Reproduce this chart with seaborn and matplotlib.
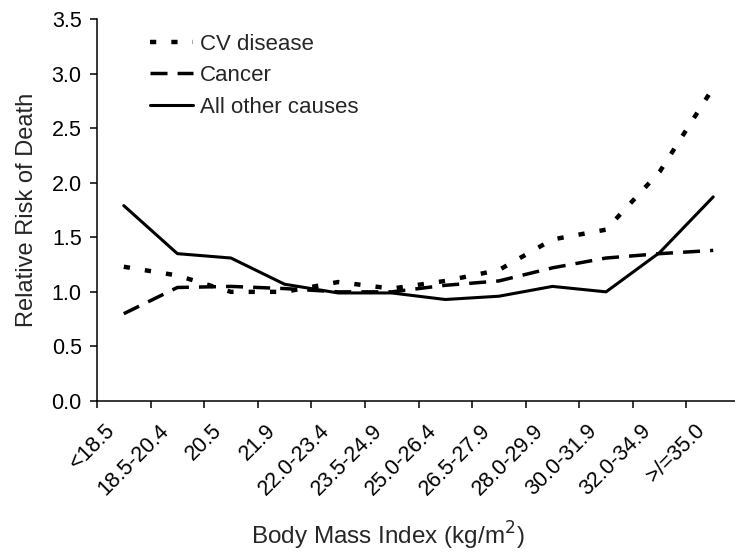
import numpy as np
import pandas as pd
import matplotlib
matplotlib.use("Agg")
import matplotlib.pyplot as plt
from matplotlib.ticker import FixedLocator, MultipleLocator, FormatStrFormatter
from matplotlib.transforms import ScaledTranslation
import seaborn as sns

# ---- data ----
bmi_labels = ["<18.5", "18.5-20.4", "20.5", "21.9", "22.0-23.4", "23.5-24.9",
              "25.0-26.4", "26.5-27.9", "28.0-29.9", "30.0-31.9", "32.0-34.9", ">/=35.0"]
cv_disease = [1.23, 1.15, 1.00, 1.00, 1.09, 1.03, 1.10, 1.20, 1.48, 1.57, 2.10, 2.87]
cancer = [0.80, 1.04, 1.05, 1.03, 1.00, 1.00, 1.06, 1.10, 1.22, 1.31, 1.35, 1.38]
other_causes = [1.79, 1.35, 1.31, 1.07, 0.99, 0.99, 0.93, 0.96, 1.05, 1.00, 1.36, 1.87]
series_names = ["CV disease", "Cancer", "All other causes"]

sns.set_theme(style="ticks")
plt.rcParams["font.family"] = ["Liberation Sans", "DejaVu Sans"]

pos = np.arange(len(bmi_labels))
df = pd.DataFrame({
    "pos": np.tile(pos, 3),
    "risk": cv_disease + cancer + other_causes,
    "series": np.repeat(series_names, len(bmi_labels)),
})

fig = plt.figure(figsize=(7.35, 5.57), dpi=100)
ax = fig.add_axes([97 / 735, 156 / 557, 643 / 735, 382 / 557])

styles = {
    "CV disease": dict(lw=3.2, ls=(0, (1.4, 3.4))),
    "Cancer": dict(lw=2.5, ls=(0, (4.9, 2.9))),
    "All other causes": dict(lw=2.2, ls="-"),
}
for name in series_names:
    sub = df[df["series"] == name]
    sns.lineplot(data=sub, x="pos", y="risk", ax=ax, color="black",
                 linewidth=styles[name]["lw"], linestyle=styles[name]["ls"],
                 label=name, sort=False, errorbar=None)

ax.set_xlim(-0.5, len(bmi_labels) - 0.5)
ax.set_ylim(0, 3.5)
ax.yaxis.set_major_locator(MultipleLocator(0.5))
ax.yaxis.set_major_formatter(FormatStrFormatter("%.1f"))

ax.set_xticks(pos)
ax.set_xticklabels(bmi_labels, rotation=45, ha="right", va="center",
                   rotation_mode="anchor")
ax.xaxis.set_minor_locator(FixedLocator(np.arange(-0.5, len(bmi_labels) + 0.5, 1)))
ax.tick_params(axis="x", which="major", length=0, pad=19, labelsize=15.5, colors="black")
ax.tick_params(axis="x", which="minor", length=5, width=1.1, direction="out", color="black")
ax.tick_params(axis="y", which="major", length=5, width=1.1, direction="out",
               pad=6, labelsize=15.5, colors="black")

# shift the rotated category labels slightly left, as in the reference
shift = ScaledTranslation(-12 / 100, 0, fig.dpi_scale_trans)
for lbl in ax.get_xticklabels():
    lbl.set_transform(lbl.get_transform() + shift)

for side in ["top", "right"]:
    ax.spines[side].set_visible(False)
for side in ["left", "bottom"]:
    ax.spines[side].set_color("black")
    ax.spines[side].set_linewidth(1.1)

ax.set_xlabel("Body Mass Index (kg/m$^{2}$)", fontsize=17.5)
ax.xaxis.set_label_coords(0.452, -0.312)
ax.set_ylabel("Relative Risk of Death", fontsize=17, labelpad=10)

ax.legend(loc="upper left", bbox_to_anchor=(0.082, 0.962), frameon=False,
          fontsize=16, handlelength=1.95, handletextpad=0.3, labelspacing=0.48,
          borderaxespad=0, borderpad=0)

fig.savefig("out.png", dpi=100)
